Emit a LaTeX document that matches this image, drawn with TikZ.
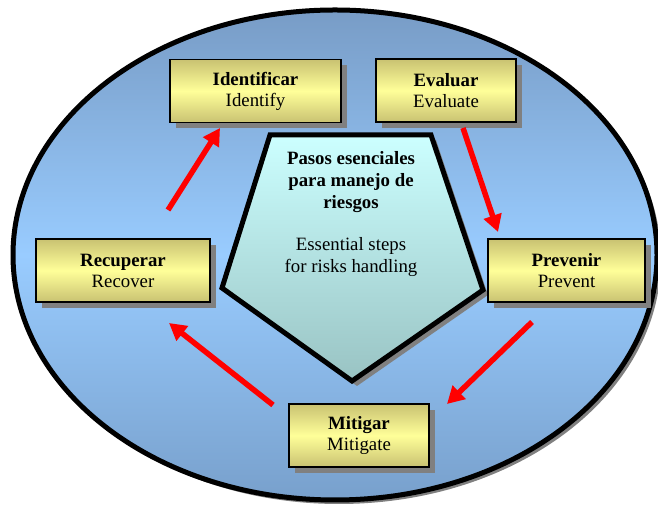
\documentclass[tikz,border=0pt]{standalone}
\usepackage{fontspec}
\setmainfont{Liberation Serif}
\usetikzlibrary{arrows.meta,shadows}

\definecolor{cieloArriba}{HTML}{789CC6}
\definecolor{cieloMedio}{HTML}{99CCFF}
\definecolor{cieloAbajo}{HTML}{78A0CC}
\definecolor{cajaOscuro}{HTML}{C9C272}
\definecolor{cajaClaro}{HTML}{FFFF99}
\definecolor{pentaArriba}{HTML}{CCFFFF}
\definecolor{pentaAbajo}{HTML}{99C3C3}
\definecolor{sombra}{HTML}{808080}

\tikzset{
  paso/.style={draw=black,line width=1.6pt,minimum height=63pt,align=center,
    inner sep=0pt,top color=cajaOscuro,bottom color=cajaOscuro,middle color=cajaClaro,
    drop shadow={shadow xshift=6pt,shadow yshift=-6pt,fill=sombra,opacity=1},
    font=\fontsize{18.8}{21}\selectfont},
  flecha/.style={red,line width=5.5pt,-{Triangle[length=17pt,width=18pt]}}
}

\begin{document}
\begin{tikzpicture}[x=1pt,y=1pt]
\useasboundingbox (0,0) rectangle (658,510);

% fondo
\draw[line width=5pt,top color=cieloArriba,bottom color=cieloAbajo,middle color=cieloMedio,
  drop shadow={shadow xshift=4pt,shadow yshift=-4pt,fill=sombra,opacity=1}]
  (335,255) ellipse [x radius=322,y radius=245];

% pentagono central
\draw[line width=5pt,line join=miter,top color=pentaArriba,bottom color=pentaAbajo,
  drop shadow={shadow xshift=5pt,shadow yshift=-5pt,fill=sombra,opacity=1}]
  (270,375) -- (431,375) -- (483,220) -- (352,129) -- (222,222) -- cycle;
\node[align=center,font=\fontsize{18.8}{22}\selectfont\bfseries] (titulo) at (351,328)
  {Pasos esenciales\\para manejo de\\riesgos};
\node[align=center,font=\fontsize{18.8}{22}\selectfont] (sub) at (351,253)
  {Essential steps\\for risks handling};

% pasos
\node[paso,minimum width=171pt] (ident) at (255.5,419) {\textbf{Identificar}\\Identify};
\node[paso,minimum width=140pt] (eval) at (446,419.5) {\textbf{Evaluar}\\Evaluate};
\node[paso,minimum width=157pt] (prev) at (566.5,239.5) {\textbf{Prevenir}\\Prevent};
\node[paso,minimum width=174pt] (recu) at (123,239.5) {\textbf{Recuperar}\\Recover};
\node[paso,minimum width=140pt] (miti) at (359,74.5) {\textbf{Mitigar}\\Mitigate};

% flechas
\coordinate (f1a) at (168,300);
\coordinate (f1b) at (220,382);
\coordinate (f2a) at (463,382);
\coordinate (f2b) at (498,278);
\coordinate (f3a) at (532,188);
\coordinate (f3b) at (447,106);
\coordinate (f4a) at (273,105);
\coordinate (f4b) at (169,187);
\draw[flecha] (f1a) -- (f1b);
\draw[flecha] (f2a) -- (f2b);
\draw[flecha] (f3a) -- (f3b);
\draw[flecha] (f4a) -- (f4b);
\end{tikzpicture}
\end{document}
